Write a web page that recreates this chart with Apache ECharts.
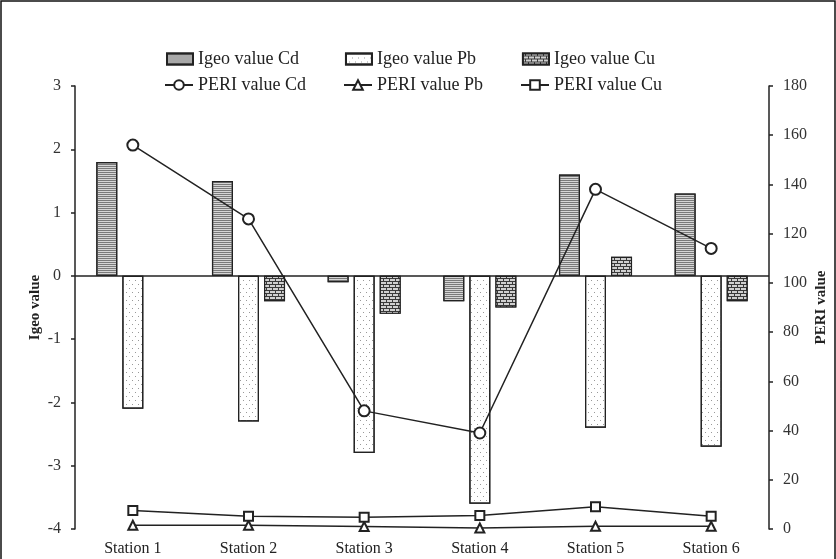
<!DOCTYPE html>
<html lang="en">
<head>
    <meta charset="UTF-8">
    <title>Igeo / PERI</title>
    <style>
        *{ padding:0; margin:0; }
        body{ background:#fff; }
    </style>
    <script type="text/javascript" src="https://cdn.jsdelivr.net/npm/echarts@6/dist/echarts.min.js"></script>
</head>
<body>
    <div id="main" style="width:836px;height:559px;"></div>
    <script type="text/javascript">
        // data
        var stations = ['Station 1', 'Station 2', 'Station 3', 'Station 4', 'Station 5', 'Station 6'];
        var igeoCd = [1.8, 1.5, -0.1, -0.4, 1.6, 1.3];
        var igeoPb = [-2.1, -2.3, -2.8, -3.6, -2.4, -2.7];
        var igeoCu = ['-', -0.4, -0.6, -0.5, 0.3, -0.4]; // no bar at station 1
        var periCd = [156, 126, 48, 39, 138, 114];
        var periPb = [1.5, 1.5, 1.0, 0.4, 1.1, 1.1];
        var periCu = [7.5, 5.2, 4.8, 5.5, 9.0, 5.2];

        var font = 'Liberation Serif';
        var myChart = echarts.init(document.getElementById('main'));

        var lineStyleCommon = { color: '#222', width: 1.5 };

        var option = {
            backgroundColor: '#fff',
            textStyle: { fontFamily: font, color: '#222' },
            graphic: [{
                type: 'rect',
                shape: { x: 1, y: 1, width: 834, height: 565 },
                style: { fill: 'none', stroke: '#111', lineWidth: 1.5 },
                silent: true
            }],
            grid: { left: 75, right: 67, top: 86, bottom: 30, outerBoundsMode: 'none' },
            legend: [{
                top: 45,
                left: 161,
                icon: 'rect',
                itemWidth: 26,
                itemHeight: 11,
                itemGap: 46,
                textStyle: { fontFamily: font, fontSize: 18, color: '#222' },
                data: ['Igeo value Cd', 'Igeo value Pb', 'Igeo value Cu']
            }, {
                top: 71,
                left: 159,
                itemWidth: 28,
                itemHeight: 12,
                itemGap: 37,
                textStyle: { fontFamily: font, fontSize: 18, color: '#222' },
                data: ['PERI value Cd', 'PERI value Pb', 'PERI value Cu']
            }],
            xAxis: {
                type: 'category',
                data: stations,
                axisLine: { show: false },
                axisTick: { show: false },
                axisLabel: { fontFamily: font, fontSize: 16, color: '#222', margin: 12 }
            },
            yAxis: [{
                type: 'value',
                min: -4,
                max: 3,
                interval: 1,
                name: 'Igeo value',
                nameLocation: 'middle',
                nameGap: 32,
                nameMoveOverlap: false,
                nameTextStyle: { fontFamily: font, fontSize: 15, fontWeight: 'bold', color: '#222' },
                axisLine: { show: true, lineStyle: { color: '#222', width: 1.5 } },
                axisTick: { show: true, length: 4, lineStyle: { color: '#222', width: 1.5 } },
                axisLabel: { fontFamily: font, fontSize: 16, color: '#333', margin: 14 },
                splitLine: { show: false }
            }, {
                type: 'value',
                min: 0,
                max: 180,
                interval: 20,
                position: 'right',
                name: 'PERI value',
                nameLocation: 'middle',
                nameGap: 45,
                nameMoveOverlap: false,
                nameTextStyle: { fontFamily: font, fontSize: 15, fontWeight: 'bold', color: '#222' },
                axisLine: { show: true, lineStyle: { color: '#222', width: 1.5 } },
                axisTick: { show: true, length: 4, lineStyle: { color: '#222', width: 1.5 } },
                axisLabel: { fontFamily: font, fontSize: 16, color: '#333', margin: 14 },
                splitLine: { show: false }
            }],
            series: [{
                name: 'Igeo value Cd',
                type: 'bar',
                data: igeoCd,
                barWidth: 21,
                barGap: '24%',
                itemStyle: {
                    color: '#d6d6d6',
                    borderColor: '#222',
                    borderWidth: 1.2,
                    decal: {
                        symbol: 'rect',
                        symbolSize: 1,
                        dashArrayX: [1, 0],
                        dashArrayY: [1, 1],
                        color: '#7a7a7a'
                    }
                },
                markLine: {
                    silent: true,
                    symbol: 'none',
                    label: { show: false },
                    lineStyle: { color: '#222', width: 1.5, type: 'solid' },
                    data: [{ yAxis: 0 }]
                }
            }, {
                name: 'Igeo value Pb',
                type: 'bar',
                data: igeoPb,
                barWidth: 21,
                barGap: '24%',
                itemStyle: {
                    color: '#fff',
                    borderColor: '#222',
                    borderWidth: 1.2,
                    decal: {
                        symbol: 'rect',
                        symbolSize: 1,
                        dashArrayX: [[1, 5], [0, 3, 1, 2]],
                        dashArrayY: [1, 3],
                        color: '#999'
                    }
                }
            }, {
                name: 'Igeo value Cu',
                type: 'bar',
                data: igeoCu,
                barWidth: 21,
                barGap: '24%',
                itemStyle: {
                    color: '#3a3a3a',
                    borderColor: '#222',
                    borderWidth: 1.2,
                    decal: {
                        symbol: 'rect',
                        symbolSize: 1,
                        dashArrayX: [[5, 1], [2, 1, 3, 0]],
                        dashArrayY: [2, 1],
                        color: '#d0d0d0'
                    }
                }
            }, {
                name: 'PERI value Cd',
                type: 'line',
                yAxisIndex: 1,
                data: periCd,
                symbol: 'emptyCircle',
                symbolSize: 11,
                lineStyle: lineStyleCommon,
                itemStyle: { color: '#222', borderWidth: 1.5 }
            }, {
                name: 'PERI value Pb',
                type: 'line',
                yAxisIndex: 1,
                data: periPb,
                symbol: 'emptyTriangle',
                symbolSize: 9,
                lineStyle: lineStyleCommon,
                itemStyle: { color: '#222', borderWidth: 1.5 }
            }, {
                name: 'PERI value Cu',
                type: 'line',
                yAxisIndex: 1,
                data: periCu,
                symbol: 'emptyRect',
                symbolSize: 9,
                lineStyle: lineStyleCommon,
                itemStyle: { color: '#222', borderWidth: 1.5 }
            }]
        };

        myChart.setOption(option);
    </script>
</body>
</html>
